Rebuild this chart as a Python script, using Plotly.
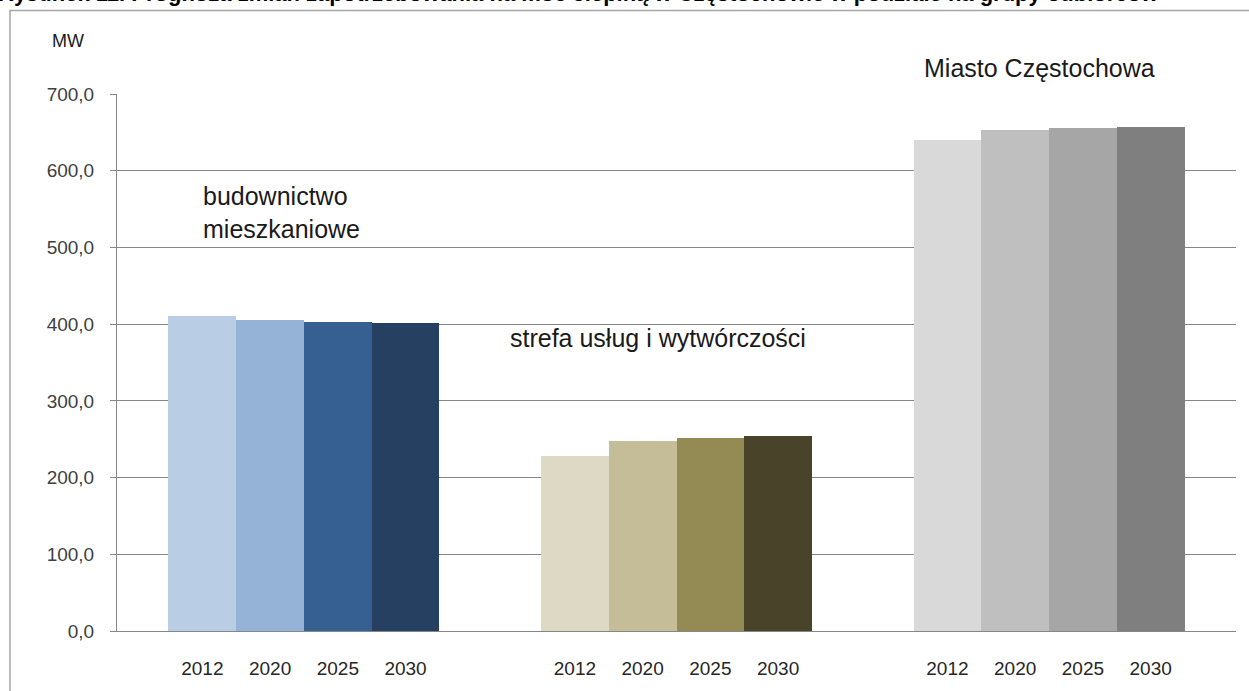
import plotly.graph_objects as go

groups = ["budownictwo mieszkaniowe", "strefa usług i wytwórczości", "Miasto Częstochowa"]
years = ["2012", "2020", "2025", "2030"]
values = {
    "budownictwo mieszkaniowe": [410.5, 406.0, 403.0, 401.0],
    "strefa usług i wytwórczości": [228.0, 248.0, 251.0, 254.5],
    "Miasto Częstochowa": [640.0, 653.0, 655.5, 657.0],
}
colors = {
    "budownictwo mieszkaniowe": ["#b9cde5", "#95b3d7", "#366092", "#254061"],
    "strefa usług i wytwórczości": ["#ddd9c4", "#c4bd97", "#948a54", "#494429"],
    "Miasto Częstochowa": ["#d9d9d9", "#bfbfbf", "#a6a6a6", "#7f7f7f"],
}
group_labels = ["budownictwo<br>mieszkaniowe", "strefa usług i wytwórczości", "Miasto Częstochowa"]
y_ticks = [0, 100, 200, 300, 400, 500, 600, 700]
title_text = "Rysunek 11. Prognoza zmian zapotrzebowania na moc cieplną w Częstochowie w podziale na grupy odbiorców"

GROUP_STEP = 5.5
fig = go.Figure()
tickvals, ticktext = [], []
for gi, g in enumerate(groups):
    xs = [gi * GROUP_STEP + j for j in range(len(years))]
    fig.add_trace(go.Bar(
        x=xs, y=values[g], width=1.0,
        marker=dict(color=colors[g], line=dict(width=0)),
        showlegend=False, hoverinfo="x+y",
    ))
    tickvals += xs
    ticktext += years

L, R, T, B = 117, 1236, 94, 635
W, H = 1249, 691
pw, ph = R - L, B - T

def px(x):
    return (x - L) / pw

def py(y):
    return (B - y) / ph

last_edge = (len(groups) - 1) * GROUP_STEP + len(years) - 0.5

fig.update_layout(
    width=W, height=H,
    margin=dict(l=L, r=W - R, t=T, b=H - B, pad=0),
    paper_bgcolor="white", plot_bgcolor="white",
    separators=", ",
    font=dict(family="Liberation Sans, Arial, sans-serif", color="#262626"),
    bargap=0,
    xaxis=dict(
        range=[-0.5 - 0.76, last_edge + 0.76],
        tickvals=tickvals, ticktext=ticktext,
        showgrid=False, zeroline=False,
        showline=True, linecolor="#868686", linewidth=1,
        ticks="", ticklabelstandoff=20,
        tickfont=dict(size=19, color="#262626"),
        fixedrange=True,
    ),
    yaxis=dict(
        range=[0, 700], tickvals=y_ticks, tickformat=".1f",
        showgrid=True, gridcolor="#868686", gridwidth=1,
        zeroline=False,
        showline=True, linecolor="#868686", linewidth=1,
        ticks="outside", ticklen=6, tickcolor="#868686",
        ticklabelstandoff=12,
        tickfont=dict(size=19, color="#404040"),
        fixedrange=True,
    ),
    shapes=[
        dict(type="rect", xref="paper", yref="paper",
             x0=px(10), x1=px(1300), y0=py(760), y1=py(10),
             line=dict(color="#a6a6a6", width=1.5), layer="above"),
    ],
    annotations=[
        dict(text="MW", xref="paper", yref="paper", x=px(68), y=py(41),
             xanchor="center", yanchor="middle", showarrow=False,
             font=dict(size=18, color="#1a1a1a")),
        dict(text=group_labels[0], xref="paper", yref="paper", x=px(201), y=py(213),
             xanchor="left", yanchor="middle", align="left", showarrow=False,
             font=dict(size=25, color="#1a1a1a")),
        dict(text=group_labels[1], xref="paper", yref="paper", x=px(508), y=py(340),
             xanchor="left", yanchor="middle", align="left", showarrow=False,
             font=dict(size=25, color="#1a1a1a")),
        dict(text=group_labels[2], xref="paper", yref="paper", x=px(922), y=py(68),
             xanchor="left", yanchor="middle", align="left", showarrow=False,
             font=dict(size=25, color="#1a1a1a")),
        dict(text="<b>" + title_text + "</b>", xref="paper", yref="paper",
             x=px(-4), y=py(7), xanchor="left", yanchor="bottom",
             showarrow=False, font=dict(size=22, color="black")),
    ],
)

fig.write_html("out.html", config={"displayModeBar": False},
               post_script="document.body.style.margin='0';")
